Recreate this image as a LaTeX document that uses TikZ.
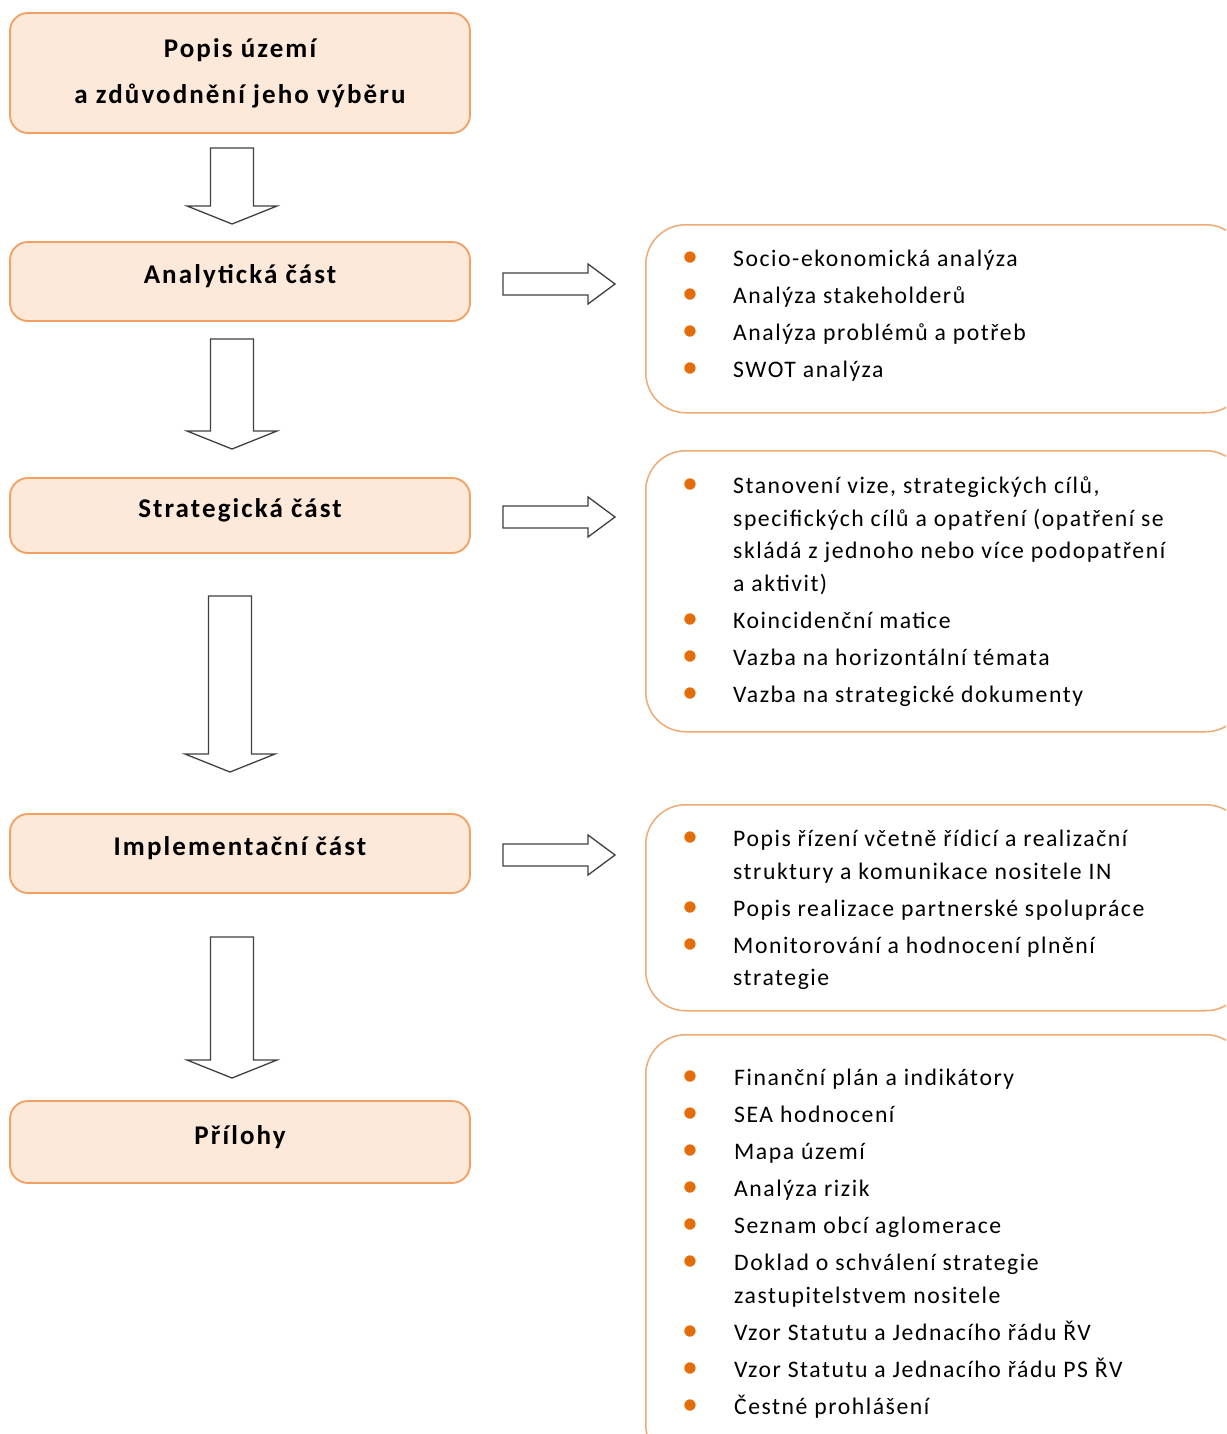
\documentclass[tikz,border=0pt]{standalone}
\usepackage{fontspec}
\setmainfont{Carlito}
\newfontfamily\listfont{Carlito}[LetterSpace=6.5]
\newfontfamily\headfont{Carlito}[LetterSpace=7.8]
\usetikzlibrary{positioning,calc}

\definecolor{peach}{HTML}{FDE9D9}
\definecolor{boxline}{HTML}{F2A062}
\definecolor{listline}{HTML}{EFAA74}
\definecolor{dotorange}{HTML}{E46C0A}
\definecolor{arrowgray}{HTML}{404040}

\newcommand{\bul}{\textcolor{dotorange}{\scalebox{1.35}{\textbullet}}}

% hollow block arrows, given the start and the tip coordinate
\newcommand{\downblock}[2]{%
  \draw[blockarrow] let \p1=(#1), \p2=(#2) in
    (\x1-21.5,\y1) -- (\x1+21.5,\y1) -- (\x1+21.5,\y2+18) -- (\x1+45,\y2+18)
    -- (\x2,\y2) -- (\x1-45,\y2+18) -- (\x1-21.5,\y2+18) -- cycle;}
\newcommand{\rightblock}[2]{%
  \draw[blockarrow] let \p1=(#1), \p2=(#2) in
    (\x1,\y1+11) -- (\x2-27,\y1+11) -- (\x2-27,\y1+20) -- (\x2,\y2)
    -- (\x2-27,\y1-20) -- (\x2-27,\y1-11) -- (\x1,\y1-11) -- cycle;}

\begin{document}
\begin{tikzpicture}[
    x=1pt, y=-1pt,
    partbox/.style={draw=boxline, fill=peach, line width=1.8pt,
      rounded corners=18pt, minimum width=460pt, inner sep=0pt,
      align=center, text height=16pt, text depth=12pt,
      font=\headfont\bfseries\fontsize{27}{46}\selectfont},
    listbox/.style={draw=listline, line width=1.5pt, rounded corners=40pt,
      minimum width=600pt, inner sep=0pt, anchor=north west},
    listtext/.style={anchor=base west, inner sep=0pt,
      font=\listfont\fontsize{23.7}{32.5}\selectfont},
    blockarrow/.style={draw=arrowgray, fill=white, line width=1.3pt}
]
  \useasboundingbox (0,0) rectangle (1226,1434);
  \clip (0,0) rectangle (1226,1434);
  \fill[white] (0,0) rectangle (1226,1434);

  % left column: the parts of the strategy
  \node[partbox, minimum height=120pt, text height=, text depth=] (popis) at (240,73)
    {Popis území\\a zdůvodnění jeho výběru};
  \node[partbox, minimum height=79pt] (analyt) at (240,281.5) {Analytická část};
  \node[partbox, minimum height=75pt] (strat) at (240,515.5) {Strategická část};
  \node[partbox, minimum height=79pt] (impl) at (240,853.5) {Implementační část};
  \node[partbox, minimum height=82pt] (prilohy) at (240,1142) {Přílohy};

  % right column: contents of each part
  \node[listbox, minimum height=188pt] (analytbox) at (645,224) {};
  \node[listtext] (analytlist) at (682,266.5) {%
    \begin{tabular}[t]{@{}p{51pt}@{}l@{}}
      \bul & Socio-ekonomická analýza\\[4.5pt]
      \bul & Analýza stakeholderů\\[4.5pt]
      \bul & Analýza problémů a potřeb\\[4.5pt]
      \bul & SWOT analýza
    \end{tabular}};

  \node[listbox, minimum height=281pt] (stratbox) at (645,450) {};
  \node[listtext] (stratlist) at (682,493.5) {%
    \begin{tabular}[t]{@{}p{51pt}@{}l@{}}
      \bul & Stanovení vize, strategických cílů,\\
           & specifických cílů a opatření (opatření se\\
           & skládá z jednoho nebo více podopatření\\
           & a aktivit)\\[4.5pt]
      \bul & Koincidenční matice\\[4.5pt]
      \bul & Vazba na horizontální témata\\[4.5pt]
      \bul & Vazba na strategické dokumenty
    \end{tabular}};

  \node[listbox, minimum height=206pt] (implbox) at (645,804) {};
  \node[listtext] (impllist) at (682,846.5) {%
    \begin{tabular}[t]{@{}p{51pt}@{}l@{}}
      \bul & Popis řízení včetně řídicí a realizační\\
           & struktury a komunikace nositele IN\\[4.5pt]
      \bul & Popis realizace partnerské spolupráce\\[4.5pt]
      \bul & Monitorování a hodnocení plnění\\
           & strategie
    \end{tabular}};

  \node[listbox, minimum height=430pt] (prilohybox) at (645,1034) {};
  \node[listtext] (prilohylist) at (682,1085.5) {%
    \begin{tabular}[t]{@{}p{52pt}@{}l@{}}
      \bul & Finanční plán a indikátory\\[4.5pt]
      \bul & SEA hodnocení\\[4.5pt]
      \bul & Mapa území\\[4.5pt]
      \bul & Analýza rizik\\[4.5pt]
      \bul & Seznam obcí aglomerace\\[4.5pt]
      \bul & Doklad o schválení strategie\\
           & zastupitelstvem nositele\\[4.5pt]
      \bul & Vzor Statutu a Jednacího řádu ŘV\\[4.5pt]
      \bul & Vzor Statutu a Jednacího řádu PS ŘV\\[4.5pt]
      \bul & Čestné prohlášení
    \end{tabular}};

  % arrow ends
  \coordinate (d1s) at (232,148);  \coordinate (d1e) at (232,224);
  \coordinate (d2s) at (232,339);  \coordinate (d2e) at (232,449);
  \coordinate (d3s) at (230,596);  \coordinate (d3e) at (230,772);
  \coordinate (d4s) at (232,937);  \coordinate (d4e) at (232,1078);
  \coordinate (r1s) at (503,284);  \coordinate (r1e) at (615,284);
  \coordinate (r2s) at (503,517);  \coordinate (r2e) at (615,517);
  \coordinate (r3s) at (503,855);  \coordinate (r3e) at (615,855);

  \downblock{d1s}{d1e}
  \downblock{d2s}{d2e}
  \downblock{d3s}{d3e}
  \downblock{d4s}{d4e}
  \rightblock{r1s}{r1e}
  \rightblock{r2s}{r2e}
  \rightblock{r3s}{r3e}
\end{tikzpicture}
\end{document}
